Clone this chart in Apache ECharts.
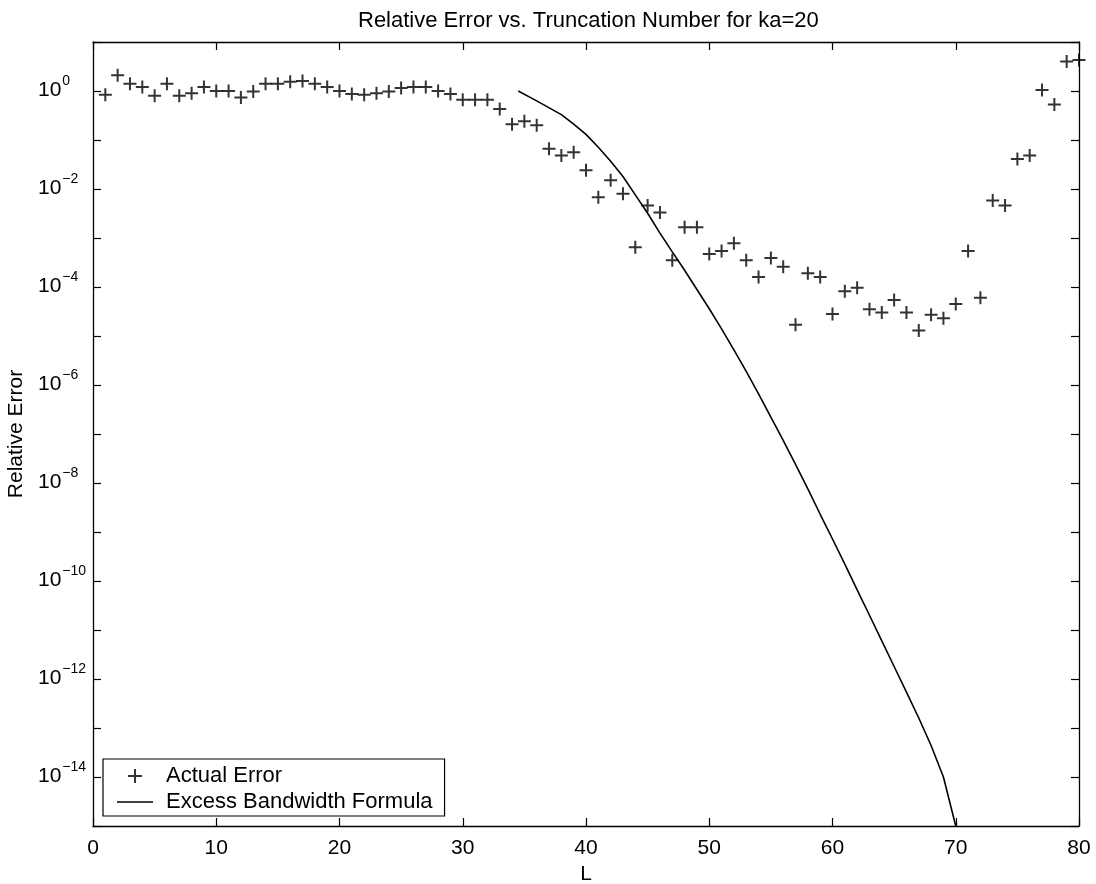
<!DOCTYPE html>
<html>
<head>
<meta charset="utf-8">
<script src="https://cdn.jsdelivr.net/npm/echarts@6/dist/echarts.min.js"></script>
<style>
html,body{margin:0;padding:0;background:#fff;}
#chart{width:1096px;height:884px;}
</style>
</head>
<body>
<div id="chart"></div>
<script>
// ---- data ----
const titleText = 'Relative Error vs. Truncation Number for ka=20';
const xName = 'L';
const yName = 'Relative Error';
const seriesNames = ['Actual Error', 'Excess Bandwidth Formula'];

// Actual error, L = 1..80
const actualL = [1,2,3,4,5,6,7,8,9,10,11,12,13,14,15,16,17,18,19,20,
  21,22,23,24,25,26,27,28,29,30,31,32,33,34,35,36,37,38,39,40,
  41,42,43,44,45,46,47,48,49,50,51,52,53,54,55,56,57,58,59,60,
  61,62,63,64,65,66,67,68,69,70,71,72,73,74,75,76,77,78,79,80];
const actualErr = [0.84,2.1,1.4,1.2,0.8,1.4,0.8,0.9,1.2,1.0,
  1.0,0.74,0.98,1.4,1.4,1.55,1.6,1.4,1.2,1.0,
  0.87,0.84,0.9,0.98,1.15,1.2,1.2,1.0,0.87,0.66,
  0.66,0.66,0.43,0.21,0.24,0.2,0.066,0.048,0.056,0.024,
  0.0068,0.015,0.008,6.5e-4,4.6e-3,3.3e-3,3.5e-4,1.65e-3,1.65e-3,4.7e-4,
  5.4e-4,7.8e-4,3.5e-4,1.6e-4,3.9e-4,2.6e-4,1.7e-5,1.9e-4,1.6e-4,2.8e-5,
  8.2e-5,9.6e-5,3.5e-5,3.0e-5,5.4e-5,3.0e-5,1.3e-5,2.7e-5,2.3e-5,4.5e-5,
  5.4e-4,6.0e-5,5.8e-3,4.6e-3,0.041,0.048,1.05,0.53,4.0,4.3];

// Excess bandwidth formula curve
const formulaL = [34.5,36,38,39,40,41,42,43,44,45,46,47,48,49,50,51,52,53,54,55,
  56,57,58,59,60,61,62,63,64,65,66,67,68,69,70];
const formulaErr = [1.0,0.63,0.33,0.21,0.13,0.071,0.037,0.018,7.6e-3,3.2e-3,
  1.26e-3,5.2e-4,2.2e-4,8.9e-5,3.6e-5,1.4e-5,5.2e-6,1.9e-6,6.6e-7,2.2e-7,
  7.4e-8,2.4e-8,7.6e-9,2.3e-9,7.2e-10,2.2e-10,6.6e-11,2.0e-11,6.0e-12,1.8e-12,
  5.4e-13,1.6e-13,4.4e-14,1.0e-14,1.0e-15];

const xTicks = {min: 0, max: 80, interval: 10};
const yRange = {min: 1e-15, max: 10};

// ---- chart ----
const FONT = '"Liberation Sans", Arial, Helvetica, sans-serif';
const chart = echarts.init(document.getElementById('chart'), null, {renderer: 'canvas'});

function zip(a, b) { return a.map((v, i) => [v, b[i]]); }

function yLabel(v) {
  const e = Math.round(Math.log10(v));
  if (e % 2 !== 0) return '';
  const s = e < 0 ? '\u2212' + (-e) : String(e);
  return '{b|10}{e|' + s + '}';
}

const tick = {show: true, inside: true, length: 8, lineStyle: {color: '#000', width: 1.2}};
const axLine = {show: true, onZero: false, lineStyle: {color: '#000', width: 1.3}};

const option = {
  backgroundColor: '#fff',
  animation: false,
  title: {
    text: titleText, left: 353, top: 5,
    textStyle: {fontFamily: FONT, fontSize: 22, fontWeight: 'normal', color: '#000'}
  },
  grid: {left: 93, right: 17, top: 42, bottom: 58, containLabel: false, outerBoundsMode: 'none'},
  legend: {
    left: 103, top: 759, orient: 'vertical', selectedMode: false,
    borderColor: '#000', borderWidth: 1.2, backgroundColor: '#fff', borderRadius: 0,
    padding: [6, 12, 3, 14], itemGap: 4, itemWidth: 36, itemHeight: 14,
    textStyle: {fontFamily: FONT, fontSize: 22, color: '#000', padding: [0, 0, 0, 8]},
    data: [
      {name: seriesNames[0]},
      {name: seriesNames[1], icon: 'path://M0,0L36,0L36,1.6L0,1.6Z', itemStyle: {color: '#000'}}
    ]
  },
  xAxis: [{
    type: 'value', position: 'bottom', min: xTicks.min, max: xTicks.max, interval: xTicks.interval,
    name: xName, nameLocation: 'middle', nameGap: 27,
    nameTextStyle: {fontFamily: FONT, fontSize: 21, color: '#000'},
    axisLine: axLine, axisTick: tick, splitLine: {show: false},
    axisLabel: {fontFamily: FONT, fontSize: 21, color: '#000', margin: 12}
  }, {
    type: 'value', position: 'top', min: xTicks.min, max: xTicks.max, interval: xTicks.interval,
    axisLine: axLine, axisTick: tick, splitLine: {show: false}, axisLabel: {show: false}
  }],
  yAxis: [{
    type: 'log', logBase: 10, position: 'left', min: yRange.min, max: yRange.max, interval: 1,
    name: yName, nameLocation: 'middle', nameGap: 58,
    nameTextStyle: {fontFamily: FONT, fontSize: 21, color: '#000'},
    axisLine: axLine, axisTick: tick, splitLine: {show: false},
    axisLabel: {
      formatter: yLabel, align: 'left', margin: 55, padding: [0, 0, 2, 0],
      rich: {
        b: {fontFamily: FONT, fontSize: 21, lineHeight: 22, color: '#000', verticalAlign: 'bottom'},
        e: {fontFamily: FONT, fontSize: 14, lineHeight: 14, color: '#000', verticalAlign: 'bottom', padding: [0, 0, 13, 1]}
      }
    }
  }, {
    type: 'log', logBase: 10, position: 'right', min: yRange.min, max: yRange.max, interval: 1,
    axisLine: axLine, axisTick: tick, splitLine: {show: false}, axisLabel: {show: false}
  }],
  series: [{
    name: seriesNames[0], type: 'scatter', xAxisIndex: 0, yAxisIndex: 0,
    symbol: 'path://M6,0L6,12M0,6L12,6', symbolSize: 13,
    itemStyle: {color: 'rgba(0,0,0,0)', borderColor: '#000', borderWidth: 2},
    data: zip(actualL, actualErr), clip: false
  }, {
    name: seriesNames[1], type: 'line', xAxisIndex: 0, yAxisIndex: 0,
    symbol: 'none', showSymbol: false, clip: true,
    lineStyle: {color: '#000', width: 1.6}, itemStyle: {color: '#000'},
    data: zip(formulaL, formulaErr)
  }]
};
chart.setOption(option);
</script>
</body>
</html>
